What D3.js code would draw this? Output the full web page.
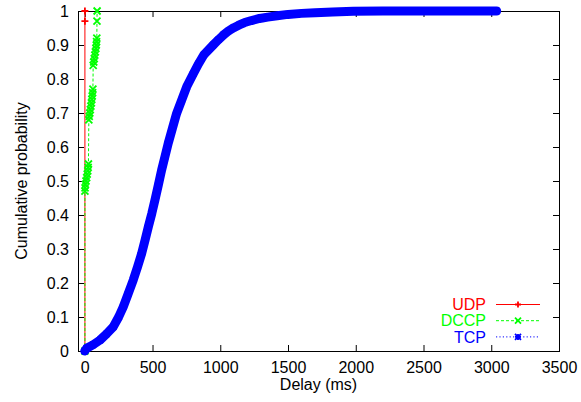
<!DOCTYPE html>
<html>
<head>
<meta charset="utf-8">
<script src="https://cdn.jsdelivr.net/npm/d3@7"></script>
<style>
  html, body { margin: 0; padding: 0; background: #fff; }
  svg { display: block; }
  text { font-family: "Liberation Sans", Arial, Helvetica, sans-serif; }
</style>
</head>
<body>
<script>
// ---------------- data ----------------
const seriesNames = ["UDP", "DCCP", "TCP"];
const seriesColors = ["#ff0000", "#00ff00", "#0000ff"];

const udpDelay = [1, 1, 1];
const udpProb  = [0, 0.97, 1.0];

const dccpDelay = [1, 1, 2, 5, 9, 14, 18, 22, 25, 27, 30, 33, 37, 41, 45, 49, 52, 55, 58, 60,
                   62, 66, 70, 74, 78, 82, 85, 87, 89, 90, 91];
const dccpProb  = [0, 0.47, 0.48, 0.49, 0.50, 0.51, 0.52, 0.53, 0.54, 0.55, 0.68, 0.69, 0.70, 0.71, 0.72, 0.73, 0.74, 0.75, 0.76, 0.77,
                   0.84, 0.85, 0.86, 0.87, 0.88, 0.89, 0.90, 0.91, 0.92, 0.97, 1.0];

const tcpDelay = [0, 14, 60, 112, 160, 210, 250, 284, 320, 358, 390, 420, 445, 469, 495, 518, 543, 567, 592, 616,
                  647, 678, 715, 752, 800, 840, 880, 948, 985, 1022, 1060, 1100, 1140, 1180, 1230, 1290, 1350, 1420,
                  1500, 1600, 1700, 1830, 1982, 2200, 2500, 2800, 3040];
const tcpProb  = [0, 0.008, 0.018, 0.032, 0.05, 0.071, 0.1, 0.13, 0.168, 0.209, 0.248, 0.287, 0.326, 0.365, 0.405, 0.444,
                  0.488, 0.532, 0.572, 0.611, 0.655, 0.699, 0.738, 0.777, 0.815, 0.845, 0.872, 0.9, 0.915, 0.929, 0.941,
                  0.951, 0.959, 0.966, 0.972, 0.978, 0.982, 0.986, 0.990, 0.993, 0.995, 0.997, 0.999, 1, 1, 1, 1];

const xTicks = [0, 500, 1000, 1500, 2000, 2500, 3000, 3500];
const xTickLabels = ["0", "500", "1000", "1500", "2000", "2500", "3000", "3500"];
const yTicks = [0, 0.1, 0.2, 0.3, 0.4, 0.5, 0.6, 0.7, 0.8, 0.9, 1];
const yTickLabels = ["0", "0.1", "0.2", "0.3", "0.4", "0.5", "0.6", "0.7", "0.8", "0.9", "1"];

const xTitle = "Delay (ms)";
const yTitle = "Cumulative probability";

// ---------------- layout ----------------
const W = 581, H = 402;
const pL = 78, pR = 559, pT = 11, pB = 351;
const FS = 16;

const svg = d3.select("body").append("svg").attr("width", W).attr("height", H);

const x = d3.scaleLinear().domain([-50, 3500]).range([pL, pR]);
const y = d3.scaleLinear().domain([0, 1]).range([pB, pT]);

// ---------------- axes ----------------
function styleAxis(g) {
  g.select(".domain").remove();
  g.selectAll(".tick line").attr("stroke", "#000").attr("stroke-width", 1);
  g.selectAll("text").attr("fill", "#000").style("font-size", FS + "px")
    .style("font-family", '"Liberation Sans", Arial, Helvetica, sans-serif');
}

svg.append("g").attr("transform", `translate(0,${pB})`)
  .call(d3.axisBottom(x).tickValues(xTicks).tickFormat((d, i) => xTickLabels[i])
        .tickSizeInner(-6).tickSizeOuter(0).tickPadding(11))
  .call(styleAxis);

svg.append("g").attr("transform", `translate(0,${pT})`)
  .call(d3.axisTop(x).tickValues(xTicks).tickFormat("")
        .tickSizeInner(-6).tickSizeOuter(0))
  .call(styleAxis);

svg.append("g").attr("transform", `translate(${pL},0)`)
  .call(d3.axisLeft(y).tickValues(yTicks).tickFormat((d, i) => yTickLabels[i])
        .tickSizeInner(-6).tickSizeOuter(0).tickPadding(9))
  .call(styleAxis);

svg.append("g").attr("transform", `translate(${pR},0)`)
  .call(d3.axisRight(y).tickValues(yTicks).tickFormat("")
        .tickSizeInner(-6).tickSizeOuter(0))
  .call(styleAxis);

// frame
svg.append("rect")
  .attr("x", pL + 0.5).attr("y", pT + 0.5)
  .attr("width", pR - pL).attr("height", pB - pT)
  .attr("fill", "none").attr("stroke", "#000").attr("stroke-width", 1);

// titles
svg.append("text")
  .attr("x", (pL + pR) / 2).attr("y", 390)
  .attr("text-anchor", "middle").style("font-size", FS + "px").text(xTitle);

svg.append("text")
  .attr("transform", `translate(26.5,${(pT + pB) / 2}) rotate(-90)`)
  .attr("text-anchor", "middle").style("font-size", FS + "px").text(yTitle);

// ---------------- markers ----------------
function marker(g, kind, cx, cy, color, r) {
  const p = d3.path();
  if (kind === "plus") {
    p.moveTo(cx - r, cy); p.lineTo(cx + r, cy);
    p.moveTo(cx, cy - r); p.lineTo(cx, cy + r);
  } else if (kind === "cross") {
    p.moveTo(cx - r, cy - r); p.lineTo(cx + r, cy + r);
    p.moveTo(cx - r, cy + r); p.lineTo(cx + r, cy - r);
  } else {
    p.moveTo(cx - r, cy); p.lineTo(cx + r, cy);
    p.moveTo(cx, cy - r); p.lineTo(cx, cy + r);
    p.moveTo(cx - r, cy - r); p.lineTo(cx + r, cy + r);
    p.moveTo(cx - r, cy + r); p.lineTo(cx + r, cy - r);
  }
  g.append("path").attr("d", p.toString()).attr("stroke", color)
    .attr("stroke-width", 1.8).attr("fill", "none");
}

const plot = svg.append("g");
const line = d3.line().x(d => x(d[0])).y(d => y(d[1]));

// UDP
const udpData = udpDelay.map((d, i) => [d, udpProb[i]]);
plot.append("path").datum(udpData).attr("d", line)
  .attr("fill", "none").attr("stroke", seriesColors[0]).attr("stroke-width", 1);
udpData.forEach(d => marker(plot, "plus", x(d[0]), y(d[1]), seriesColors[0], 3.5));

// DCCP
const dccpData = dccpDelay.map((d, i) => [d, dccpProb[i]]);
plot.append("path").datum(dccpData).attr("d", line)
  .attr("fill", "none").attr("stroke", seriesColors[1]).attr("stroke-width", 1)
  .attr("stroke-dasharray", "3,2");
dccpData.forEach(d => marker(plot, "cross", x(d[0]), y(d[1]), seriesColors[1], 3.5));

// TCP (dense markers form a thick band)
const tcpData = tcpDelay.map((d, i) => [d, tcpProb[i]]);
plot.append("path").datum(tcpData).attr("d", line)
  .attr("fill", "none").attr("stroke", seriesColors[2]).attr("stroke-width", 9)
  .attr("stroke-linecap", "round").attr("stroke-linejoin", "round");
tcpData.forEach(d => marker(plot, "star", x(d[0]), y(d[1]), seriesColors[2], 3));

// ---------------- legend ----------------
const legY = [304.5, 320.7, 336.9];
const legDash = [null, "3,2", "1.2,2.2"];
const legKind = ["plus", "cross", "star"];
const leg = svg.append("g");
seriesNames.forEach((name, i) => {
  leg.append("text").attr("x", 486).attr("y", legY[i]).attr("dy", "0.35em")
    .attr("text-anchor", "end").attr("fill", seriesColors[i])
    .style("font-size", FS + "px").text(name);
  const ln = leg.append("line").attr("x1", 496).attr("x2", 540)
    .attr("y1", legY[i]).attr("y2", legY[i])
    .attr("stroke", seriesColors[i]).attr("stroke-width", 1);
  if (legDash[i]) ln.attr("stroke-dasharray", legDash[i]);
  marker(leg, legKind[i], 518, legY[i], seriesColors[i], 3);
});
</script>
</body>
</html>
